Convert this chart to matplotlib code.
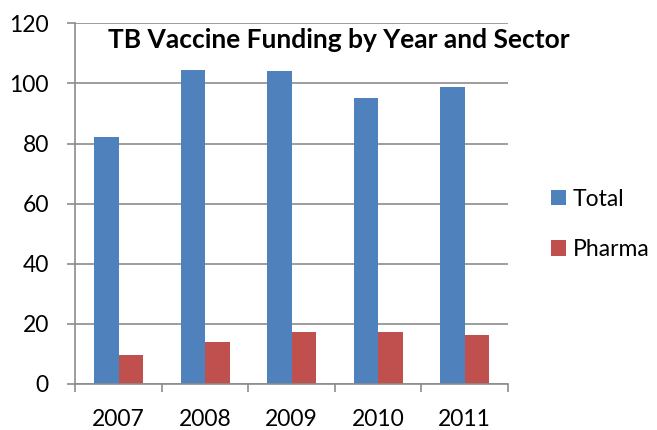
import matplotlib
matplotlib.use('Agg')
import matplotlib.pyplot as plt
import numpy as np

years = ['2007', '2008', '2009', '2010', '2011']
total = [82.2, 104.6, 104.2, 95.2, 98.9]
pharma = [9.6, 13.9, 17.3, 17.3, 16.3]

plt.rcParams['font.family'] = ['Lato', 'DejaVu Sans']

fig = plt.figure(figsize=(6.57, 4.30), dpi=100)
ax = fig.add_axes([0.1146, 0.107, 0.773 - 0.1146, 0.9458 - 0.107])

x = np.arange(len(years))
w = 0.283
ax.bar(x - w / 2, total, w, color='#4F81BD', label='Total', zorder=2)
ax.bar(x + w / 2, pharma, w, color='#C0504D', label='Pharma', zorder=2)

ax.set_xlim(-0.5, len(years) - 0.5)
ax.set_ylim(0, 120)
ax.set_yticks(range(0, 121, 20))
ax.yaxis.grid(True, color='#8c8c8c', linewidth=1.2, zorder=0)

ax.set_xticks(x)
ax.set_xticklabels(years)
ax.set_xticks(np.arange(-0.5, len(years)), minor=True)
ax.tick_params(axis='x', which='major', length=0, pad=18, labelsize=16.5)
ax.tick_params(axis='x', which='minor', length=6, width=1.2, color='#8c8c8c', direction='out')
ax.tick_params(axis='y', length=6, width=1.2, color='#8c8c8c', pad=13, labelsize=16.5)

for side in ['top', 'right']:
    ax.spines[side].set_visible(False)
for side in ['left', 'bottom']:
    ax.spines[side].set_color('#8c8c8c')
    ax.spines[side].set_linewidth(1.2)

ax.text(0.515, 0.907, 'TB Vaccine Funding by Year and Sector', transform=fig.transFigure,
        ha='center', va='center', fontsize=19, fontweight='bold')

fig.legend(loc='center left', bbox_to_anchor=(0.838, 0.478), frameon=False,
           fontsize=16.5, handlelength=0.68, handleheight=0.68, labelspacing=1.3,
           handletextpad=0.3, borderaxespad=0, borderpad=0)

fig.savefig('out.png', dpi=100)
